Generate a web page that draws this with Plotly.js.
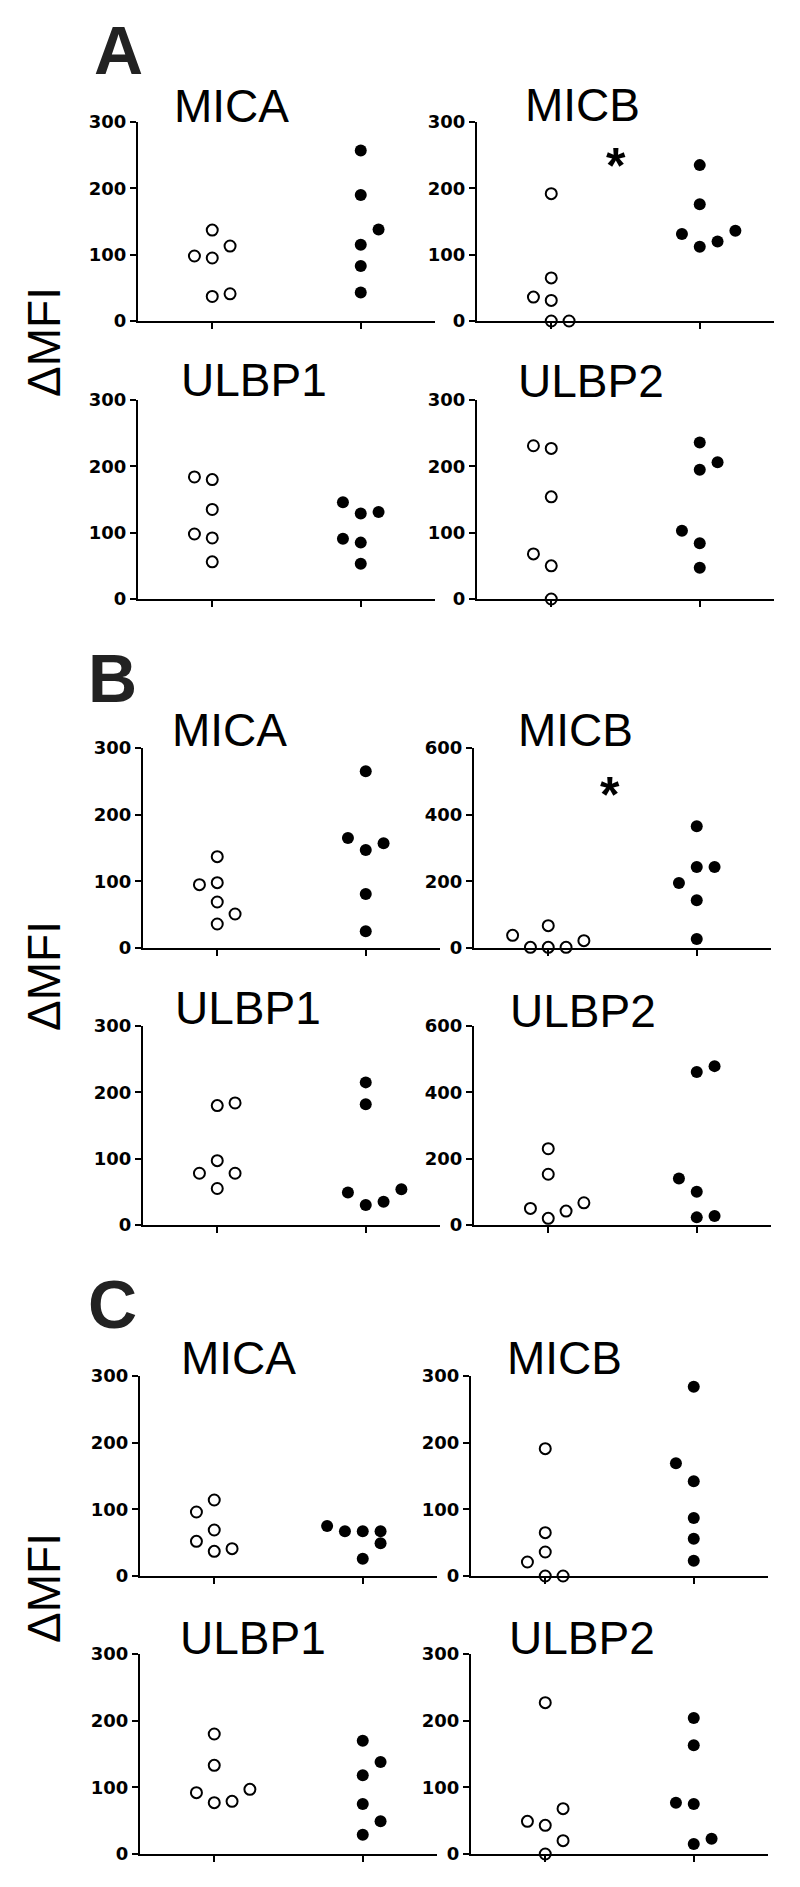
<!DOCTYPE html>
<html>
<head>
<meta charset="utf-8">
<script src="https://cdn.plot.ly/plotly-3.0.1.min.js"></script>
<style>
  body { margin: 0; background: #fff; }
  #chart { width: 800px; height: 1887px; }
</style>
</head>
<body>
<div id="chart"></div>
<script>
// values; "slot" is the side-by-side column of a dot (-2..2)
const sections = ['A', 'B', 'C'];
const genes = ['MICA', 'MICB', 'ULBP1', 'ULBP2'];

// panel A
const aMicaOpen = [137, 113, 98, 95, 37, 41];
const aMicaOpenSlot = [0, 1, -1, 0, 0, 1];
const aMicaFilled = [257, 190, 138, 115, 83, 43];
const aMicaFilledSlot = [0, 0, 1, 0, 0, 0];
const aMicbOpen = [192, 65, 36, 31, 0, 0];
const aMicbOpenSlot = [0, 0, -1, 0, 0, 1];
const aMicbFilled = [235, 176, 131, 112, 120, 136];
const aMicbFilledSlot = [0, 0, -1, 0, 1, 2];
const aUlbp1Open = [184, 180, 135, 98, 92, 56];
const aUlbp1OpenSlot = [-1, 0, 0, -1, 0, 0];
const aUlbp1Filled = [146, 129, 131, 91, 85, 53];
const aUlbp1FilledSlot = [-1, 0, 1, -1, 0, 0];
const aUlbp2Open = [231, 227, 154, 68, 50, 0];
const aUlbp2OpenSlot = [-1, 0, 0, -1, 0, 0];
const aUlbp2Filled = [236, 206, 195, 103, 84, 47];
const aUlbp2FilledSlot = [0, 1, 0, -1, 0, 0];

// panel B
const bMicaOpen = [137, 95, 98, 69, 51, 36];
const bMicaOpenSlot = [0, -1, 0, 0, 1, 0];
const bMicaFilled = [265, 165, 157, 147, 81, 25];
const bMicaFilledSlot = [0, -1, 1, 0, 0, 0];
const bMicbOpen = [38, 2, 67, 2, 2, 22];
const bMicbOpenSlot = [-2, -1, 0, 0, 1, 2];
const bMicbFilled = [365, 243, 243, 195, 143, 27];
const bMicbFilledSlot = [0, 0, 1, -1, 0, 0];
const bUlbp1Open = [180, 184, 97, 78, 78, 55];
const bUlbp1OpenSlot = [0, 1, 0, -1, 1, 0];
const bUlbp1Filled = [215, 182, 49, 30, 35, 54];
const bUlbp1FilledSlot = [0, 0, -1, 0, 1, 2];
const bUlbp2Open = [230, 153, 50, 20, 42, 67];
const bUlbp2OpenSlot = [0, 0, -1, 0, 1, 2];
const bUlbp2Filled = [461, 479, 140, 100, 23, 27];
const bUlbp2FilledSlot = [0, 1, -1, 0, 0, 1];

// panel C
const cMicaOpen = [114, 96, 69, 52, 37, 41];
const cMicaOpenSlot = [0, -1, 0, -1, 0, 1];
const cMicaFilled = [75, 67, 67, 67, 49, 26];
const cMicaFilledSlot = [-2, -1, 0, 1, 1, 0];
const cMicbOpen = [191, 65, 36, 21, 0, 0];
const cMicbOpenSlot = [0, 0, 0, -1, 0, 1];
const cMicbFilled = [284, 169, 142, 87, 56, 23];
const cMicbFilledSlot = [0, -1, 0, 0, 0, 0];
const cUlbp1Open = [180, 133, 92, 77, 79, 97];
const cUlbp1OpenSlot = [0, 0, -1, 0, 1, 2];
const cUlbp1Filled = [170, 138, 118, 75, 49, 29];
const cUlbp1FilledSlot = [0, 1, 0, 0, 1, 0];
const cUlbp2Open = [227, 68, 49, 43, 20, 0];
const cUlbp2OpenSlot = [0, 1, -1, 0, 1, 0];
const cUlbp2Filled = [204, 163, 77, 75, 15, 23];
const cUlbp2FilledSlot = [0, 0, -1, 0, 0, 1];

// y axis maximum per panel (B MICB and B ULBP2 go to 600)
const yMax = [300, 300, 300, 300, 300, 600, 300, 600, 300, 300, 300, 300];

const panelData = [
    [aMicaOpen, aMicaOpenSlot, aMicaFilled, aMicaFilledSlot],
    [aMicbOpen, aMicbOpenSlot, aMicbFilled, aMicbFilledSlot],
    [aUlbp1Open, aUlbp1OpenSlot, aUlbp1Filled, aUlbp1FilledSlot],
    [aUlbp2Open, aUlbp2OpenSlot, aUlbp2Filled, aUlbp2FilledSlot],
    [bMicaOpen, bMicaOpenSlot, bMicaFilled, bMicaFilledSlot],
    [bMicbOpen, bMicbOpenSlot, bMicbFilled, bMicbFilledSlot],
    [bUlbp1Open, bUlbp1OpenSlot, bUlbp1Filled, bUlbp1FilledSlot],
    [bUlbp2Open, bUlbp2OpenSlot, bUlbp2Filled, bUlbp2FilledSlot],
    [cMicaOpen, cMicaOpenSlot, cMicaFilled, cMicaFilledSlot],
    [cMicbOpen, cMicbOpenSlot, cMicbFilled, cMicbFilledSlot],
    [cUlbp1Open, cUlbp1OpenSlot, cUlbp1Filled, cUlbp1FilledSlot],
    [cUlbp2Open, cUlbp2OpenSlot, cUlbp2Filled, cUlbp2FilledSlot]
];

const W = 800, H = 1887;
const px = x => x / W;
const py = y => 1 - y / H;

// pixel geometry of the axes
const rowPx = [[122, 321], [400, 599], [748, 948], [1026, 1225], [1376, 1576], [1654, 1854]];
const leftStart = [138, 143, 140];
const rightStart = [477, 474, 471];
const axisLen = 297;
const slotStep = 0.12;

// subplot title centres (x, cap middle y)
const titlePos = [
    [231, 106], [582, 105], [254, 380], [591, 381],
    [230, 730], [575, 730], [248, 1008], [583, 1011],
    [238, 1358], [564, 1358], [253, 1638], [582, 1638]
];
const letterPos = [[118, 50], [112, 678], [113, 1304]];
const deltaY = [342, 976, 1588];
const starPos = [[616, 166], [610, 795]];

const tickFont = { family: 'DejaVu Sans, Arial, sans-serif', size: 18, color: '#000', weight: 'bold' };

var data = [];
var layout = {
    width: W,
    height: H,
    margin: { l: 0, r: 0, t: 0, b: 0 },
    paper_bgcolor: '#fff',
    plot_bgcolor: '#fff',
    showlegend: false,
    annotations: []
};

panelData.forEach((p, i) => {
    const s = Math.floor(i / 4);
    const r = Math.floor((i % 4) / 2);
    const c = i % 2;
    const n = i + 1;
    const xa = n === 1 ? 'x' : 'x' + n;
    const ya = n === 1 ? 'y' : 'y' + n;

    data.push({
        x: p[1].map(k => 0 + k * slotStep),
        y: p[0],
        xaxis: xa, yaxis: ya,
        type: 'scatter', mode: 'markers',
        cliponaxis: false,
        marker: { size: 11, color: '#fff', line: { color: '#000', width: 2 } },
        hoverinfo: 'y'
    });
    data.push({
        x: p[3].map(k => 1 + k * slotStep),
        y: p[2],
        xaxis: xa, yaxis: ya,
        type: 'scatter', mode: 'markers',
        cliponaxis: false,
        marker: { size: 12, color: '#000' },
        hoverinfo: 'y'
    });

    const x0 = c === 0 ? leftStart[s] : rightStart[s];
    const rowIdx = s * 2 + r;
    const top = rowPx[rowIdx][0], bottom = rowPx[rowIdx][1];

    layout['xaxis' + (n === 1 ? '' : n)] = {
        domain: [px(x0), px(x0 + axisLen)],
        anchor: ya,
        range: [-0.5, 1.5],
        showgrid: false, zeroline: false,
        showline: true, linecolor: '#000', linewidth: 2,
        tickvals: [0, 1], showticklabels: false,
        ticks: 'outside', ticklen: 6, tickwidth: 2, tickcolor: '#000',
        fixedrange: true
    };
    layout['yaxis' + (n === 1 ? '' : n)] = {
        domain: [py(bottom), py(top)],
        anchor: xa,
        range: [0, yMax[i]],
        dtick: yMax[i] / 3,
        showgrid: false, zeroline: false,
        showline: true, linecolor: '#000', linewidth: 2,
        ticks: 'outside', ticklen: 6, tickwidth: 2, tickcolor: '#000',
        tickfont: tickFont,
        fixedrange: true
    };

    layout.annotations.push({
        xref: 'paper', yref: 'paper',
        x: px(titlePos[i][0]), y: py(titlePos[i][1]),
        xanchor: 'center', yanchor: 'middle',
        text: genes[i % 4], showarrow: false,
        font: { family: 'Liberation Sans, Arial, sans-serif', size: 46, color: '#000' }
    });
});

sections.forEach((letter, s) => {
    layout.annotations.push({
        xref: 'paper', yref: 'paper',
        x: px(letterPos[s][0]), y: py(letterPos[s][1]),
        xanchor: 'center', yanchor: 'middle',
        text: letter, showarrow: false,
        font: { family: 'Liberation Sans, Arial, sans-serif', size: 68, color: '#222', weight: 'bold' }
    });
    layout.annotations.push({
        xref: 'paper', yref: 'paper',
        x: px(44), y: py(deltaY[s]),
        xanchor: 'center', yanchor: 'middle',
        text: 'ΔMFI', textangle: -90, showarrow: false,
        font: { family: 'Liberation Sans, Arial, sans-serif', size: 46, color: '#000' }
    });
});

// significance stars on the MICB panels of A and B
starPos.forEach(sp => {
    layout.annotations.push({
        xref: 'paper', yref: 'paper',
        x: px(sp[0]), y: py(sp[1]),
        xanchor: 'center', yanchor: 'middle',
        text: '*', showarrow: false,
        font: { family: 'Liberation Sans, Arial, sans-serif', size: 50, color: '#000', weight: 'bold' }
    });
});

Plotly.newPlot('chart', data, layout, { staticPlot: true });
</script>
</body>
</html>
